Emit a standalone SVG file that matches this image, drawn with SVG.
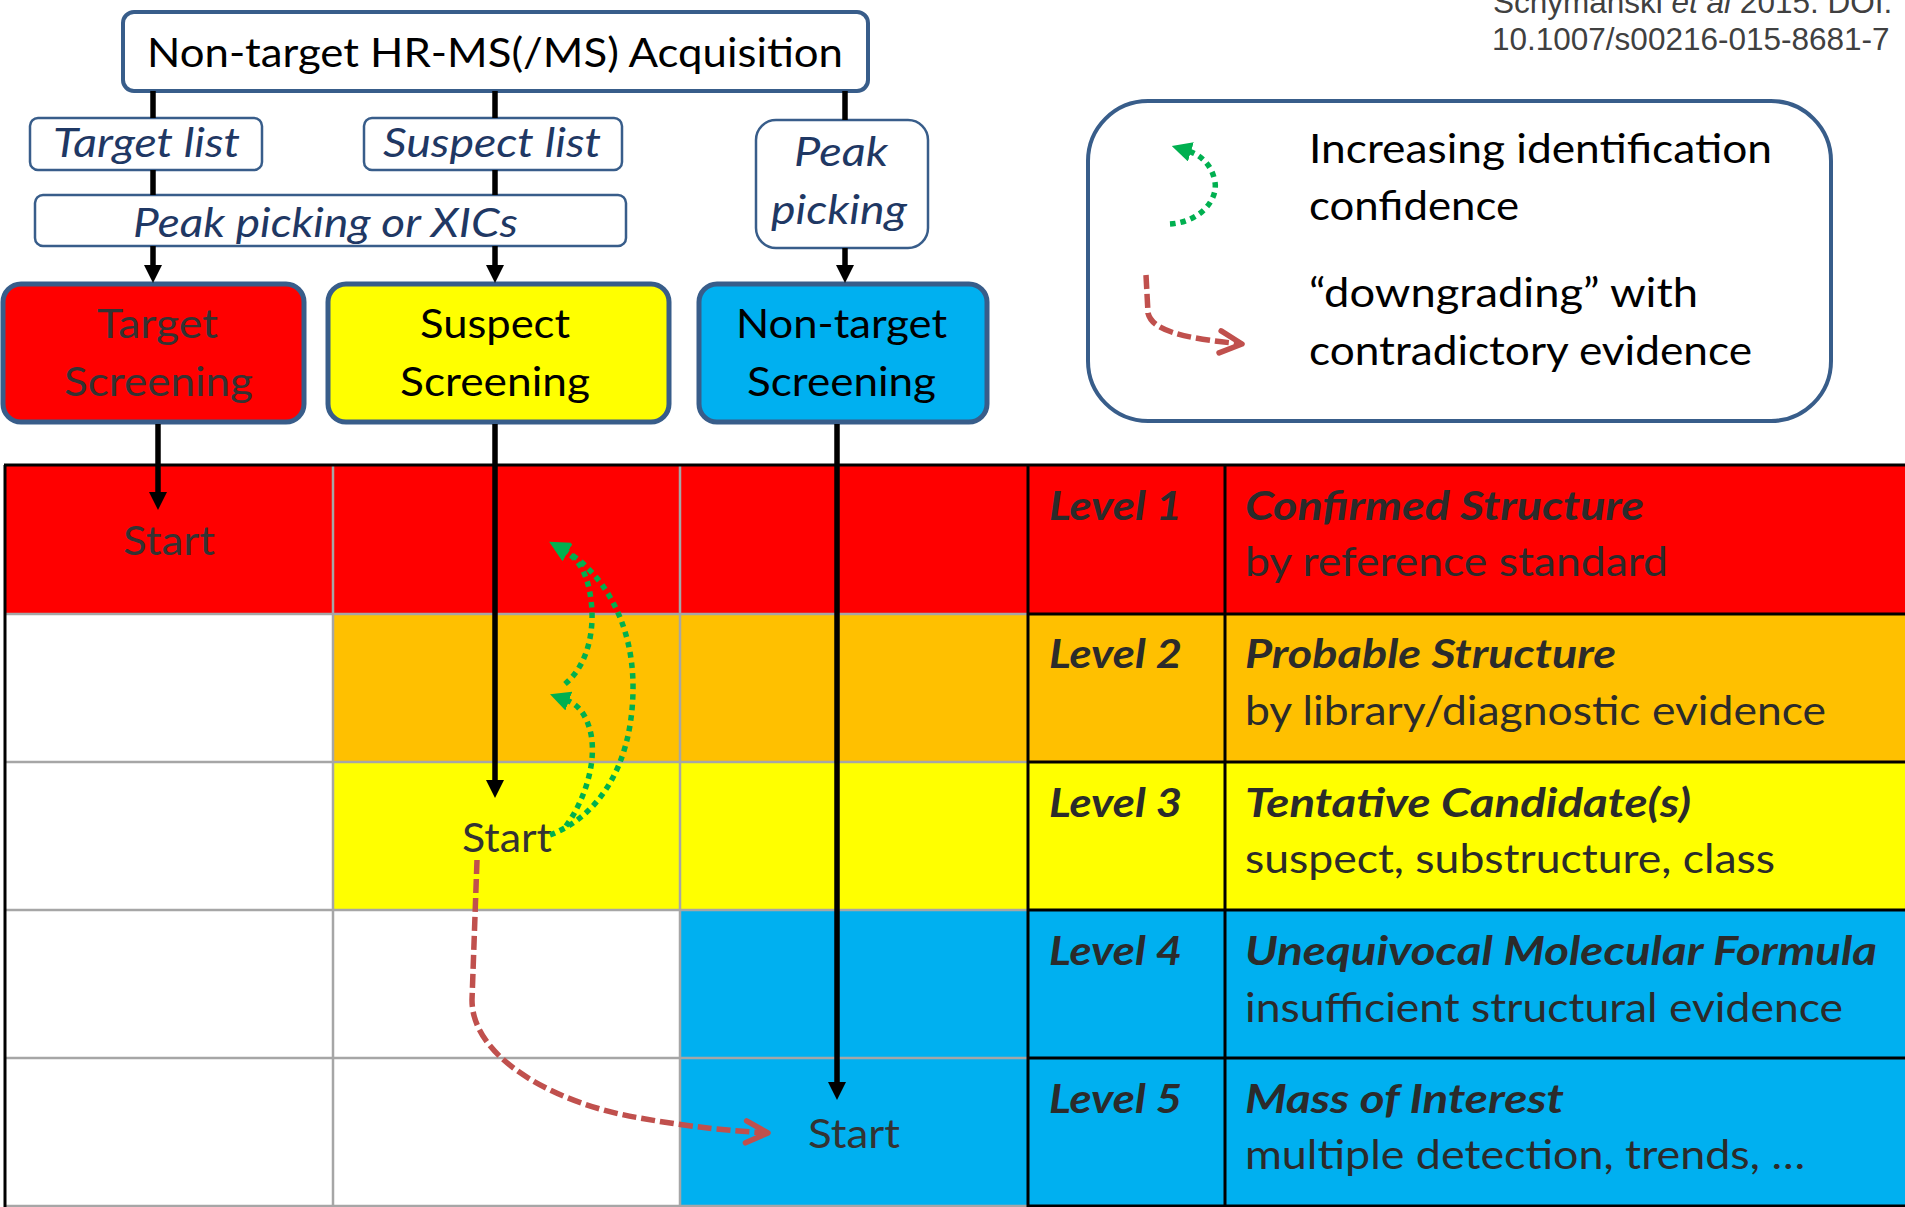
<svg xmlns="http://www.w3.org/2000/svg" width="1905" height="1207" viewBox="0 0 1905 1207">
<defs>
<style>
.t { font-family: Lato, "Open Sans", "DejaVu Sans", sans-serif; font-size: 41px; }
.blk { fill: #000; }
.it { font-style: italic; fill: #1F3864; }
.dk { fill: #333; }
.lvl { font-weight: bold; font-style: italic; fill: #2b2b2b; }
.sub { fill: #2b2b2b; }
.box { fill: #fff; stroke: #385D8A; stroke-width: 2.5; }
.tbox { fill: #fff; stroke: #385D8A; stroke-width: 4; }
.scr { stroke: #385D8A; stroke-width: 5; }
.conn { stroke: #000; stroke-width: 5.5; fill: none; }
.grn { stroke: #00B050; stroke-width: 5.5; fill: none; stroke-dasharray: 5.5 5; }
.red { stroke: #C0504D; stroke-width: 5.5; fill: none; stroke-dasharray: 14 5; }
.gl { stroke: #A6A6A6; stroke-width: 2.5; }
.bl { stroke: #000; stroke-width: 3; }
.cite { font-family: "Liberation Sans", Arial, sans-serif; font-size: 31.5px; fill: #404040; }
</style>
<marker id="ah" markerUnits="userSpaceOnUse" markerWidth="18" markerHeight="18" viewBox="0 0 18 18" refX="6" refY="9" orient="auto">
<path d="M0,0 L18,9 L0,18 z" fill="#000"/>
</marker>
<marker id="gh" markerUnits="userSpaceOnUse" markerWidth="20" markerHeight="20" viewBox="0 0 20 20" refX="3" refY="10" orient="auto">
<path d="M0,0 L20,10 L0,20 z" fill="#00B050"/>
</marker>
<marker id="rh" markerUnits="userSpaceOnUse" markerWidth="32" markerHeight="32" viewBox="-28 -16 32 32" refX="0" refY="0" orient="auto" overflow="visible">
<path d="M-22,-11 L0,0 L-22,11" fill="none" stroke="#C0504D" stroke-width="5.5" stroke-linecap="round" stroke-linejoin="round"/>
</marker>
</defs>

<rect x="0" y="0" width="1905" height="1207" fill="#fff"/>

<g id="level-table">
<rect x="5" y="465" width="1900" height="149" fill="#FF0000"/>
<rect x="333" y="614" width="1572" height="148" fill="#FFC000"/>
<rect x="333" y="762" width="1572" height="148" fill="#FFFF00"/>
<rect x="680" y="910" width="1225" height="148" fill="#00B0F0"/>
<rect x="680" y="1058" width="1225" height="149" fill="#00B0F0"/>
<line class="gl" x1="5" y1="614" x2="1028" y2="614"/>
<line class="gl" x1="5" y1="762" x2="1028" y2="762"/>
<line class="gl" x1="5" y1="910" x2="1028" y2="910"/>
<line class="gl" x1="5" y1="1058" x2="1028" y2="1058"/>
<line class="gl" x1="5" y1="1206" x2="1028" y2="1206"/>
<line class="gl" x1="333" y1="465" x2="333" y2="1207"/>
<line class="gl" x1="680" y1="465" x2="680" y2="1207"/>
<line class="bl" x1="1028" y1="614" x2="1905" y2="614"/>
<line class="bl" x1="1028" y1="762" x2="1905" y2="762"/>
<line class="bl" x1="1028" y1="910" x2="1905" y2="910"/>
<line class="bl" x1="1028" y1="1058" x2="1905" y2="1058"/>
<line class="bl" x1="1028" y1="1206" x2="1905" y2="1206"/>
<line class="bl" x1="4" y1="465" x2="1905" y2="465"/>
<line class="bl" x1="5" y1="465" x2="5" y2="1207"/>
<line class="bl" x1="1028" y1="465" x2="1028" y2="1207"/>
<line class="bl" x1="1225" y1="465" x2="1225" y2="1207"/>
</g>

<g id="level-1" class="t">
<text class="lvl" x="1049" y="520" textLength="133" lengthAdjust="spacingAndGlyphs">Level 1</text>
<text class="lvl" x="1245" y="520" textLength="399" lengthAdjust="spacingAndGlyphs">Confirmed Structure</text>
<text class="sub" x="1245" y="576" textLength="423" lengthAdjust="spacingAndGlyphs">by reference standard</text>
</g>
<g id="level-2" class="t">
<text class="lvl" x="1049" y="668" textLength="133" lengthAdjust="spacingAndGlyphs">Level 2</text>
<text class="lvl" x="1245" y="668" textLength="371" lengthAdjust="spacingAndGlyphs">Probable Structure</text>
<text class="sub" x="1245" y="725" textLength="581" lengthAdjust="spacingAndGlyphs">by library/diagnostic evidence</text>
</g>
<g id="level-3" class="t">
<text class="lvl" x="1049" y="817" textLength="133" lengthAdjust="spacingAndGlyphs">Level 3</text>
<text class="lvl" x="1245" y="817" textLength="446" lengthAdjust="spacingAndGlyphs">Tentative Candidate(s)</text>
<text class="sub" x="1245" y="873" textLength="530" lengthAdjust="spacingAndGlyphs">suspect, substructure, class</text>
</g>
<g id="level-4" class="t">
<text class="lvl" x="1049" y="965" textLength="133" lengthAdjust="spacingAndGlyphs">Level 4</text>
<text class="lvl" x="1245" y="965" textLength="632" lengthAdjust="spacingAndGlyphs">Unequivocal Molecular Formula</text>
<text class="sub" x="1245" y="1022" textLength="598" lengthAdjust="spacingAndGlyphs">insufficient structural evidence</text>
</g>
<g id="level-5" class="t">
<text class="lvl" x="1049" y="1113" textLength="133" lengthAdjust="spacingAndGlyphs">Level 5</text>
<text class="lvl" x="1245" y="1113" textLength="319" lengthAdjust="spacingAndGlyphs">Mass of Interest</text>
<text class="sub" x="1245" y="1169" textLength="560" lengthAdjust="spacingAndGlyphs">multiple detection, trends, …</text>
</g>

<g id="start-target" class="t"><text class="dk" x="123" y="555" textLength="92" lengthAdjust="spacingAndGlyphs">Start</text></g>
<g id="start-suspect" class="t"><text class="dk" x="462" y="852" textLength="90" lengthAdjust="spacingAndGlyphs">Start</text></g>
<g id="start-nontarget" class="t"><text class="dk" x="808" y="1148" textLength="92" lengthAdjust="spacingAndGlyphs">Start</text></g>

<g id="acquisition" class="t">
<rect class="tbox" x="123" y="12" width="745" height="79" rx="11"/>
<text class="blk" x="147" y="67" textLength="696" lengthAdjust="spacingAndGlyphs">Non-target HR-MS(/MS) Acquisition</text>
</g>
<g id="target-list" class="t">
<rect class="box" x="30" y="118" width="232" height="52" rx="8"/>
<text class="it" x="53" y="157" textLength="187" lengthAdjust="spacingAndGlyphs">Target list</text>
</g>
<g id="suspect-list" class="t">
<rect class="box" x="364" y="118" width="258" height="52" rx="8"/>
<text class="it" x="383" y="157" textLength="218" lengthAdjust="spacingAndGlyphs">Suspect list</text>
</g>
<g id="peak-xic" class="t">
<rect class="box" x="35" y="195" width="591" height="51" rx="8"/>
<text class="it" x="133" y="237" textLength="385" lengthAdjust="spacingAndGlyphs">Peak picking or XICs</text>
</g>
<g id="peak-picking" class="t">
<rect class="box" x="756" y="120" width="172" height="128" rx="20"/>
<text class="it" x="794" y="166" textLength="94" lengthAdjust="spacingAndGlyphs">Peak</text>
<text class="it" x="771" y="224" textLength="136" lengthAdjust="spacingAndGlyphs">picking</text>
</g>
<g id="target-screening" class="t">
<rect class="scr" x="3" y="284" width="301" height="138" rx="18" fill="#FF0000"/>
<text class="dk" x="97" y="338" textLength="121" lengthAdjust="spacingAndGlyphs">Target</text>
<text class="dk" x="64" y="396" textLength="189" lengthAdjust="spacingAndGlyphs">Screening</text>
</g>
<g id="suspect-screening" class="t">
<rect class="scr" x="328" y="284" width="341" height="138" rx="18" fill="#FFFF00"/>
<text class="blk" x="420" y="338" textLength="150" lengthAdjust="spacingAndGlyphs">Suspect</text>
<text class="blk" x="400" y="396" textLength="190" lengthAdjust="spacingAndGlyphs">Screening</text>
</g>
<g id="nontarget-screening" class="t">
<rect class="scr" x="699" y="284" width="288" height="138" rx="18" fill="#00B0F0"/>
<text class="blk" x="736" y="338" textLength="211" lengthAdjust="spacingAndGlyphs">Non-target</text>
<text class="blk" x="747" y="396" textLength="189" lengthAdjust="spacingAndGlyphs">Screening</text>
</g>

<g id="connectors">
<line class="conn" x1="153" y1="91" x2="153" y2="118"/>
<line class="conn" x1="153" y1="170" x2="153" y2="195"/>
<line class="conn" x1="153" y1="246" x2="153" y2="271" marker-end="url(#ah)"/>
<line class="conn" x1="495" y1="91" x2="495" y2="118"/>
<line class="conn" x1="495" y1="170" x2="495" y2="195"/>
<line class="conn" x1="495" y1="246" x2="495" y2="271" marker-end="url(#ah)"/>
<line class="conn" x1="845" y1="91" x2="845" y2="120"/>
<line class="conn" x1="845" y1="248" x2="845" y2="271" marker-end="url(#ah)"/>
<line class="conn" x1="158" y1="424" x2="158" y2="498" marker-end="url(#ah)"/>
<line class="conn" x1="495" y1="424" x2="495" y2="786" marker-end="url(#ah)"/>
<line class="conn" x1="837" y1="424" x2="837" y2="1088" marker-end="url(#ah)"/>
<path class="grn" d="M550,835 C595,818 632,770 633,690 C634,620 600,570 564,550" marker-end="url(#gh)"/>
<path class="grn" d="M566,826 C585,800 598,760 590,730 C585,712 577,704 566,700" marker-end="url(#gh)"/>
<path class="grn" d="M565,684 C588,665 595,630 591,600 C588,575 579,559 565,551" marker-end="url(#gh)"/>
<path class="red" d="M477,860 L472,1000 C472,1060 560,1105 640,1118 C690,1127 730,1131 768,1133" marker-end="url(#rh)"/>
</g>

<g id="legend" class="t">
<rect class="tbox" x="1088" y="101" width="743" height="320" rx="60" stroke-width="4.5"/>
<path class="grn" d="M1170,224 C1200,222 1218,200 1215,182 C1212,165 1201,155 1188,151" marker-end="url(#gh)"/>
<path class="red" d="M1146,275 L1148,313 C1152,330 1180,338 1242,344" marker-end="url(#rh)"/>
<text class="blk" x="1309" y="163" textLength="463" lengthAdjust="spacingAndGlyphs">Increasing identification</text>
<text class="blk" x="1309" y="220" textLength="210" lengthAdjust="spacingAndGlyphs">confidence</text>
<text class="blk" x="1309" y="307" textLength="389" lengthAdjust="spacingAndGlyphs">“downgrading” with</text>
<text class="blk" x="1309" y="365" textLength="443" lengthAdjust="spacingAndGlyphs">contradictory evidence</text>
</g>

<g id="citation" class="cite">
<text x="1493" y="13">Schymanski <tspan font-style="italic">et al</tspan> 2015. DOI:</text>
<text x="1492" y="50">10.1007/s00216-015-8681-7</text>
</g>
</svg>
